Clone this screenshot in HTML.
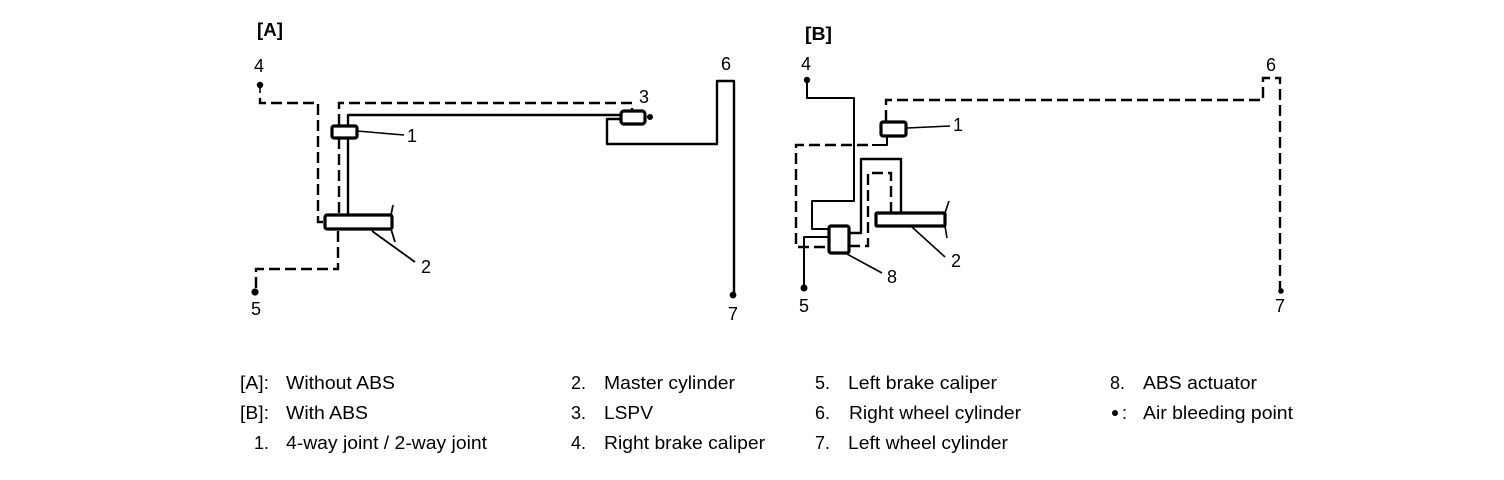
<!DOCTYPE html>
<html>
<head>
<meta charset="utf-8">
<style>
html,body{margin:0;padding:0;background:#fff;width:1504px;height:480px;overflow:hidden}
svg{display:block}
text{font-family:"Liberation Sans",sans-serif;fill:#000}
.n{font-size:18px;text-anchor:middle}
.l{font-size:18px}
.h{font-size:18px;font-weight:bold}
.s{fill:none;stroke:#000;stroke-width:2.4;stroke-linejoin:round}
.t{fill:none;stroke:#000;stroke-width:1.6}
.d{fill:none;stroke:#000;stroke-width:2.4;stroke-dasharray:11 5}
.b{fill:#fff;stroke:#000;stroke-width:3.2}
</style>
</head>
<body>
<svg width="1504" height="480" viewBox="0 0 1504 480" xmlns="http://www.w3.org/2000/svg">
<rect width="1504" height="480" fill="#fff"/>

<!-- Diagram A -->
<text class="h" x="257" y="36" textLength="26" lengthAdjust="spacingAndGlyphs">[A]</text>
<text class="n" x="259" y="72">4</text>
<text class="n" x="644" y="103">3</text>
<text class="n" x="726" y="70">6</text>
<text class="n" x="412" y="142">1</text>
<text class="n" x="426" y="273">2</text>
<text class="n" x="256" y="315">5</text>
<text class="n" x="733" y="320">7</text>

<circle cx="260" cy="85" r="3.2" fill="#000"/>
<path class="t" d="M260 85V93"/>
<path class="d" d="M260 98V103H318V222H324"/>
<path class="d" d="M339 125V103H632V110"/>
<path class="d" d="M339 138V215"/>
<path class="d" d="M338 231V269H256V289"/>
<circle cx="255" cy="292" r="3.6" fill="#000"/>
<path class="s" d="M348 125V115H620"/>
<path class="s" d="M348 138V215"/>
<rect class="b" x="332" y="126" width="25" height="12" rx="2"/>
<path class="t" d="M357 131L404 135"/>
<rect class="b" x="325" y="215" width="67" height="14" rx="2"/>
<path class="s" d="M393 205L391 215M391 229L395 242" style="stroke-width:1.8"/>
<path class="s" d="M372 231L415 262" style="stroke-width:1.8"/>
<path class="s" d="M620 119H607V144H717V81H734V296"/>
<rect class="b" x="621" y="111" width="24" height="13" rx="3"/>
<circle cx="650" cy="117" r="3" fill="#000"/>
<circle cx="733" cy="295" r="3.4" fill="#000"/>

<!-- Diagram B -->
<text class="h" x="805" y="40" textLength="27" lengthAdjust="spacingAndGlyphs">[B]</text>
<text class="n" x="806" y="70">4</text>
<text class="n" x="958" y="131">1</text>
<text class="n" x="1271" y="71">6</text>
<text class="n" x="956" y="267">2</text>
<text class="n" x="892" y="283">8</text>
<text class="n" x="804" y="312">5</text>
<text class="n" x="1280" y="312">7</text>

<circle cx="807" cy="80" r="3.2" fill="#000"/>
<path class="s" d="M807 80V98H854V201H812V229H828" style="stroke-width:2"/>
<path class="d" d="M886 121V100H1263V78H1280V289"/>
<circle cx="1281" cy="291" r="2.8" fill="#000"/>
<rect class="b" x="881" y="122" width="25" height="14" rx="2"/>
<path class="t" d="M907 128L950 126"/>
<path class="s" d="M887 137V145H872" style="stroke-width:2"/>
<path class="d" d="M868 145H796V247H827"/>
<path class="s" d="M828 237H804V288" style="stroke-width:2"/>
<circle cx="804" cy="288" r="3.5" fill="#000"/>
<rect class="b" x="829" y="226" width="20" height="27" rx="2"/>
<path class="s" d="M849 233H861V159H901V212"/>
<path class="d" d="M849 246H868V173H891V212"/>
<rect class="b" x="876" y="213" width="69" height="13" rx="1"/>
<path class="t" d="M949 201L945 213M945 226L947 238"/>
<path class="t" d="M912 227L945 257"/>
<path class="t" d="M847 254L882 273"/>

<!-- Legend -->
<text class="l" x="240" y="389" textLength="29" lengthAdjust="spacingAndGlyphs">[A]:</text>
<text class="l" x="286" y="389" textLength="109" lengthAdjust="spacingAndGlyphs">Without ABS</text>
<text class="l" x="240" y="419" textLength="29" lengthAdjust="spacingAndGlyphs">[B]:</text>
<text class="l" x="286" y="419" textLength="82" lengthAdjust="spacingAndGlyphs">With ABS</text>
<text class="l" x="254" y="449">1.</text>
<text class="l" x="286" y="449" textLength="201" lengthAdjust="spacingAndGlyphs">4-way joint / 2-way joint</text>

<text class="l" x="571" y="389">2.</text>
<text class="l" x="604" y="389" textLength="131" lengthAdjust="spacingAndGlyphs">Master cylinder</text>
<text class="l" x="571" y="419">3.</text>
<text class="l" x="604" y="419" textLength="49" lengthAdjust="spacingAndGlyphs">LSPV</text>
<text class="l" x="571" y="449">4.</text>
<text class="l" x="604" y="449" textLength="161" lengthAdjust="spacingAndGlyphs">Right brake caliper</text>

<text class="l" x="815" y="389">5.</text>
<text class="l" x="848" y="389" textLength="149" lengthAdjust="spacingAndGlyphs">Left brake caliper</text>
<text class="l" x="815" y="419">6.</text>
<text class="l" x="849" y="419" textLength="172" lengthAdjust="spacingAndGlyphs">Right wheel cylinder</text>
<text class="l" x="815" y="449">7.</text>
<text class="l" x="848" y="449" textLength="160" lengthAdjust="spacingAndGlyphs">Left wheel cylinder</text>

<text class="l" x="1110" y="389">8.</text>
<text class="l" x="1143" y="389" textLength="114" lengthAdjust="spacingAndGlyphs">ABS actuator</text>
<circle cx="1115" cy="413" r="3" fill="#000"/>
<text class="l" x="1122" y="419">:</text>
<text class="l" x="1143" y="419" textLength="150" lengthAdjust="spacingAndGlyphs">Air bleeding point</text>
</svg>
</body>
</html>
